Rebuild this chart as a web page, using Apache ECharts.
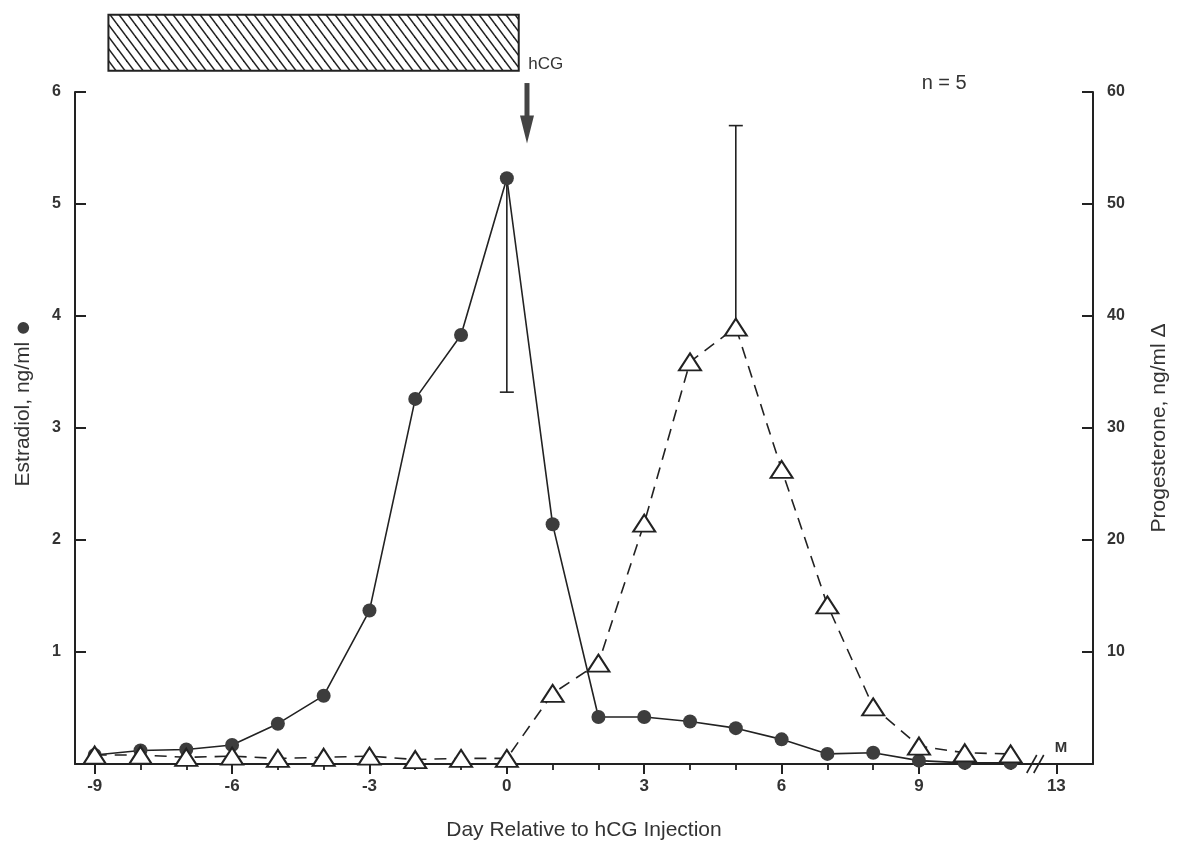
<!DOCTYPE html>
<html>
<head>
<meta charset="utf-8">
<title>Estradiol / Progesterone around hCG</title>
<script src="https://cdn.jsdelivr.net/npm/echarts@6/dist/echarts.min.js"></script>
<style>
  html, body { margin: 0; padding: 0; background: #fff; }
  #chart { width: 1179px; height: 854px; }
</style>
</head>
<body>
<div id="chart"></div>
<script>
// 数据：相对 hCG 注射的天数
const days = [-9, -8, -7, -6, -5, -4, -3, -2, -1, 0, 1, 2, 3, 4, 5, 6, 7, 8, 9, 10, 11];
// Estradiol, ng/ml (左轴)
const estradiol = [0.08, 0.12, 0.13, 0.17, 0.36, 0.61, 1.37, 3.26, 3.83, 5.23, 2.14, 0.42, 0.42, 0.38, 0.32, 0.22, 0.09, 0.1, 0.03, 0.01, 0.01];
// Progesterone, ng/ml (右轴)
const progesterone = [0.8, 0.8, 0.6, 0.7, 0.5, 0.6, 0.7, 0.4, 0.5, 0.5, 6.3, 9.0, 21.5, 35.9, 39.0, 26.3, 14.2, 5.1, 1.6, 1.0, 0.9];
// 误差线 [天, 下端, 上端, 横线位置(0=下,1=上)]
const estradiolErr = [[0, 3.32, 5.23, 0]];
const progesteroneErr = [[5, 39.0, 57.0, 1]];
// 坐标轴刻度
const xMajorTicks = [-9, -6, -3, 0, 3, 6, 9, 12];
const xMinorTicks = [-8, -7, -5, -4, -2, -1, 1, 2, 4, 5, 7, 8, 10, 11];
const xBreakDay = 12;      // 断轴后，位置 12 表示第 13 天
const xBreakLabel = '13';

const FONT = "'Liberation Sans', Arial, sans-serif";
const INK = '#222';

const chart = echarts.init(document.getElementById('chart'));

function pairs(ys) {
    return days.map((d, i) => [d, ys[i]]);
}

function errorBarItem(params, api) {
    const x = api.value(0);
    const lo = api.coord([x, api.value(1)]);
    const hi = api.coord([x, api.value(2)]);
    const capY = api.value(3) === 1 ? hi[1] : lo[1];
    return {
        type: 'group',
        children: [
            { type: 'line', shape: { x1: lo[0], y1: lo[1], x2: hi[0], y2: hi[1] }, style: { stroke: INK, lineWidth: 1.6 } },
            { type: 'line', shape: { x1: lo[0] - 7, y1: capY, x2: lo[0] + 7, y2: capY }, style: { stroke: INK, lineWidth: 1.6 } }
        ]
    };
}

const option = {
    backgroundColor: '#fff',
    animation: false,
    textStyle: { fontFamily: FONT },
    grid: { left: 75, right: 86, top: 92, bottom: 90 },
    xAxis: [
        {
            type: 'value',
            min: -9.43,
            max: 12.8,
            name: 'Day Relative to hCG Injection',
            nameLocation: 'middle',
            nameGap: 56,
            nameTextStyle: { fontSize: 21, color: '#333', fontFamily: FONT },
            axisLine: { show: true, onZero: false, lineStyle: { color: INK, width: 2 } },
            axisTick: { show: true, length: 10, customValues: xMajorTicks, lineStyle: { color: INK, width: 2 } },
            axisLabel: {
                customValues: xMajorTicks,
                margin: 14,
                fontSize: 17,
                fontWeight: 'bold',
                color: '#333',
                fontFamily: FONT,
                formatter: v => (v === xBreakDay ? xBreakLabel : String(v))
            },
            splitLine: { show: false }
        },
        {
            type: 'value',
            min: -9.43,
            max: 12.8,
            position: 'bottom',
            axisLine: { show: false, onZero: false },
            axisTick: { show: true, length: 6, customValues: xMinorTicks, lineStyle: { color: INK, width: 1.8 } },
            axisLabel: { show: false, customValues: xMinorTicks },
            splitLine: { show: false }
        }
    ],
    yAxis: [
        {
            type: 'value',
            min: 0,
            max: 6,
            interval: 1,
            position: 'left',
            name: 'Estradiol, ng/ml {d|●}',
            nameLocation: 'middle',
            nameRotate: 90,
            nameGap: 38,
            nameTextStyle: {
                fontSize: 21, color: '#333', fontFamily: FONT, padding: [0, 0, 0, 50],
                rich: { d: { fontSize: 27, color: '#3d3d3d' } }
            },
            axisLine: { show: true, onZero: false, lineStyle: { color: INK, width: 2 } },
            axisTick: { show: true, inside: true, length: 11, lineStyle: { color: INK, width: 2 } },
            axisLabel: {
                margin: 14, fontSize: 16, fontWeight: 'bold', color: '#333', fontFamily: FONT,
                formatter: v => (v === 0 ? '' : String(v))
            },
            splitLine: { show: false }
        },
        {
            type: 'value',
            min: 0,
            max: 60,
            interval: 10,
            position: 'right',
            name: 'Progesterone, ng/ml Δ',
            nameLocation: 'middle',
            nameRotate: 90,
            nameGap: 56,
            nameTextStyle: { fontSize: 21, color: '#333', fontFamily: FONT },
            axisLine: { show: true, onZero: false, lineStyle: { color: INK, width: 2 } },
            axisTick: { show: true, inside: true, length: 11, lineStyle: { color: INK, width: 2 } },
            axisLabel: {
                margin: 14, fontSize: 16, fontWeight: 'bold', color: '#333', fontFamily: FONT,
                formatter: v => (v === 0 ? '' : String(v))
            },
            splitLine: { show: false }
        }
    ],
    series: [
        {
            name: 'Estradiol',
            type: 'line',
            xAxisIndex: 0,
            yAxisIndex: 0,
            data: pairs(estradiol),
            symbol: 'circle',
            symbolSize: 14,
            showAllSymbol: true,
            z: 3,
            itemStyle: { color: '#3d3d3d' },
            lineStyle: { color: INK, width: 1.6 }
        },
        {
            name: 'EstradiolErr',
            type: 'custom',
            xAxisIndex: 0,
            yAxisIndex: 0,
            data: estradiolErr,
            z: 2,
            renderItem: errorBarItem
        },
        {
            name: 'Progesterone',
            type: 'line',
            xAxisIndex: 0,
            yAxisIndex: 1,
            data: pairs(progesterone),
            symbol: 'triangle',
            symbolSize: [22, 17],
            showAllSymbol: true,
            z: 4,
            itemStyle: { color: '#fff', borderColor: INK, borderWidth: 2 },
            lineStyle: { color: INK, width: 1.6, type: [12, 8] }
        },
        {
            name: 'ProgesteroneErr',
            type: 'custom',
            xAxisIndex: 0,
            yAxisIndex: 1,
            data: progesteroneErr,
            z: 2,
            renderItem: errorBarItem
        }
    ]
};

chart.setOption(option);

// 斜线填充图案
function hatchPattern() {
    const c = document.createElement('canvas');
    c.width = 9;
    c.height = 12;
    const ctx = c.getContext('2d');
    ctx.fillStyle = '#fff';
    ctx.fillRect(0, 0, 9, 12);
    ctx.strokeStyle = '#222';
    ctx.lineWidth = 1.5;
    [[-9, -12, 18, 24], [0, -12, 27, 24], [-18, -12, 9, 24]].forEach(l => {
        ctx.beginPath();
        ctx.moveTo(l[0], l[1]);
        ctx.lineTo(l[2], l[3]);
        ctx.stroke();
    });
    return c;
}

// 注释：处理期横条、hCG 箭头、n = 5、M、断轴符号
function addAnnotations() {
    const px = p => chart.convertToPixel({ xAxisIndex: 0, yAxisIndex: 0 }, p);
    const barA = px([-8.7, 6.69]);
    const barB = px([0.26, 6.19]);
    const arrowTop = px([0.44, 6.08]);
    const arrowTip = px([0.44, 5.54]);
    const hcg = px([0.47, 6.25]);
    const nLabel = px([9.55, 6.08]);
    const mLabel = px([12.1, 0.14]);
    const brk = px([11.55, 0]);

    const headLen = 28;
    const graphic = [
        {
            type: 'rect',
            shape: { x: barA[0], y: barA[1], width: barB[0] - barA[0], height: barB[1] - barA[1] },
            style: { fill: { image: hatchPattern(), repeat: 'repeat' }, stroke: INK, lineWidth: 2 }
        },
        {
            type: 'text',
            x: hcg[0], y: hcg[1],
            style: { text: 'hCG', fontSize: 17, fill: '#333', fontFamily: FONT, verticalAlign: 'middle' }
        },
        {
            type: 'rect',
            shape: { x: arrowTop[0] - 2.5, y: arrowTop[1], width: 5, height: arrowTip[1] - arrowTop[1] - headLen + 2 },
            style: { fill: '#444' }
        },
        {
            type: 'polygon',
            shape: { points: [[arrowTip[0] - 7, arrowTip[1] - headLen], [arrowTip[0] + 7, arrowTip[1] - headLen], [arrowTip[0], arrowTip[1]]] },
            style: { fill: '#444' }
        },
        {
            type: 'text',
            x: nLabel[0], y: nLabel[1],
            style: { text: 'n = 5', fontSize: 20, fill: '#333', fontFamily: FONT, align: 'center', verticalAlign: 'middle' }
        },
        {
            type: 'text',
            x: mLabel[0], y: mLabel[1],
            style: { text: 'M', fontSize: 15, fontWeight: 'bold', fill: '#333', fontFamily: FONT, align: 'center', verticalAlign: 'middle' }
        },
        {
            type: 'rect',
            shape: { x: brk[0] - 4, y: brk[1] - 3, width: 8, height: 6 },
            style: { fill: '#fff' }
        },
        {
            type: 'line',
            shape: { x1: brk[0] - 9, y1: brk[1] + 9, x2: brk[0] + 1, y2: brk[1] - 9 },
            style: { stroke: INK, lineWidth: 1.6 }
        },
        {
            type: 'line',
            shape: { x1: brk[0] - 2, y1: brk[1] + 9, x2: brk[0] + 8, y2: brk[1] - 9 },
            style: { stroke: INK, lineWidth: 1.6 }
        }
    ];
    chart.setOption({ graphic: graphic });
}

addAnnotations();
</script>
</body>
</html>
